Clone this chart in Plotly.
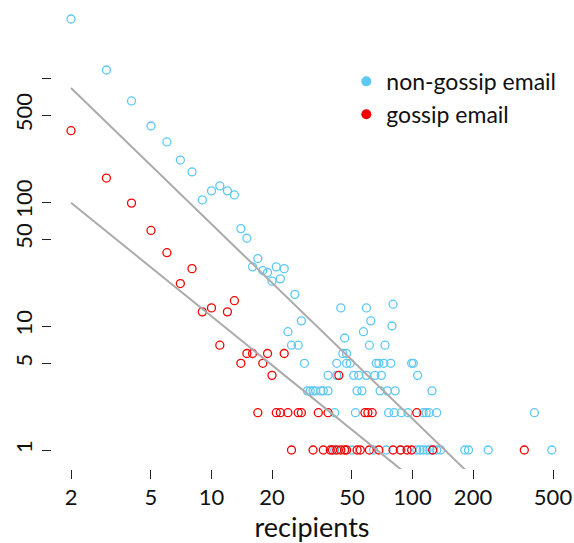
import plotly.graph_objects as go
import numpy as np

# ---------------- data ----------------
nongossip_x = [2, 3, 4, 5, 6, 7, 8, 9, 10, 11, 12, 13, 14, 15, 16, 17, 18, 19, 20, 21, 22, 23,
               24, 25, 26, 27, 28, 29,
               30, 31, 32, 33, 35, 36, 38, 53, 56, 69, 75, 82, 125,
               41, 50, 64, 74, 88, 105, 109, 113, 118, 122, 126, 132, 138, 182, 190, 238, 493,
               41, 52, 76, 81, 88, 95, 113, 117, 121, 132, 404,
               38, 42, 51, 54, 59, 65, 70, 106,
               42, 47, 49, 66, 68, 72, 78, 99, 101,
               45, 47, 61, 73, 46, 57, 79, 62, 44, 59, 80]
nongossip_y = [2990, 1160, 653, 410, 305, 218, 175, 104, 123, 135, 123, 114, 61, 51, 30, 35, 28, 27, 23, 30, 24, 29,
               9, 7, 18, 7, 11, 5,
               3, 3, 3, 3, 3, 3, 3, 3, 3, 3, 3, 3, 3,
               1, 1, 1, 1, 1, 1, 1, 1, 1, 1, 1, 1, 1, 1, 1, 1, 1,
               2, 2, 2, 2, 2, 2, 2, 2, 2, 2, 2,
               4, 4, 4, 4, 4, 4, 4, 4,
               5, 5, 5, 5, 5, 5, 5, 5, 5,
               6, 6, 7, 7, 8, 9, 10, 11, 14, 14, 15]

gossip_x = [2, 3, 4, 5, 6, 7, 8, 9, 10, 11, 12, 13, 14, 15, 16, 17, 18, 19, 20, 21, 22, 23, 24,
            27, 28, 34, 38, 43, 58, 60, 63, 105,
            25, 32, 36, 39, 40, 42, 44, 46, 47, 53, 55, 61, 68, 80, 87, 94, 99, 126, 360]
gossip_y = [376, 156, 98, 59, 39, 22, 29, 13, 14, 7, 13, 16, 5, 6, 6, 2, 5, 6, 4, 2, 2, 6, 2,
            2, 2, 2, 2, 4, 2, 2, 2, 2,
            1, 1, 1, 1, 1, 1, 1, 1, 1, 1, 1, 1, 1, 1, 1, 1, 1, 1, 1]

# power-law fits: log10(y) = log10_at_2 + slope * (log10(x) - log10(2))
fit_names = ["non-gossip fit", "gossip fit"]
fit_log10_at_2 = [2.919, 1.994]
fit_slopes = [-1.57, -1.31]
fit_x_span = [2, 500]

x_ticks = [2, 5, 10, 20, 50, 100, 200, 500]
y_ticks = [1, 5, 10, 50, 100, 500, 1000]
y_tick_labels = ["1", "5", "10", "50", "100", "500", ""]

series_names = ["non-gossip email", "gossip email"]
BLUE = "#5CC8F4"
RED = "#F50000"
GREY = "#ABABAB"
FONT = "Lato"

fig = go.Figure()

fig.add_trace(go.Scatter(
    x=nongossip_x, y=nongossip_y, mode="markers", name=series_names[0], showlegend=False,
    marker=dict(symbol="circle-open", size=8, color=BLUE, line=dict(width=1.3, color=BLUE)),
))
fig.add_trace(go.Scatter(
    x=gossip_x, y=gossip_y, mode="markers", name=series_names[1], showlegend=False,
    marker=dict(symbol="circle-open", size=8, color=RED, line=dict(width=1.3, color=RED)),
))

for name, c0, m in zip(fit_names, fit_log10_at_2, fit_slopes):
    xs = np.array(fit_x_span, dtype=float)
    ys = 10 ** (c0 + m * (np.log10(xs) - np.log10(2)))
    fig.add_trace(go.Scatter(x=xs, y=ys, mode="lines", name=name, showlegend=False,
                             line=dict(color=GREY, width=2)))

# legend entries (filled dots)
for i, (name, col) in enumerate(zip(series_names, [BLUE, RED])):
    fig.add_trace(go.Scatter(x=[None], y=[None], mode="markers", name=name,
                             legendgroup=f"g{i}",
                             marker=dict(symbol="circle", size=10, color=col)))

fig.update_layout(
    width=574, height=543, autosize=False,
    margin=dict(l=52, r=2, t=2, b=74, autoexpand=False),
    paper_bgcolor="white", plot_bgcolor="white",
    font=dict(family=FONT, color="#111111"),
    showlegend=True,
    legend=dict(x=0.566, y=0.876, xanchor="left", yanchor="top",
                font=dict(size=23, family=FONT, color="#111111"),
                bgcolor="rgba(0,0,0,0)", borderwidth=0,
                itemwidth=30, tracegroupgap=0),
    xaxis=dict(type="log", range=[0.2065, 2.7935],
               tickmode="array", tickvals=x_ticks, ticktext=[str(v) for v in x_ticks],
               ticks="outside", ticklen=9, tickwidth=1, tickcolor="#222222",
               showline=False, showgrid=False, zeroline=False, automargin=False,
               tickfont=dict(size=22, family=FONT, color="#111111"),
               title=dict(text="recipients", font=dict(size=27, family=FONT, color="#111111"),
                          standoff=10)),
    yaxis=dict(type="log", range=[-0.1532, 3.6129],
               tickmode="array", tickvals=y_ticks, ticktext=y_tick_labels, tickangle=-90,
               ticks="outside", ticklen=9, tickwidth=1, tickcolor="#222222",
               showline=False, showgrid=False, zeroline=False, automargin=False,
               ticklabelstandoff=1,
               tickfont=dict(size=22, family=FONT, color="#111111")),
)

fig.write_html("out.html", config={"displayModeBar": False},
               post_script="document.body.style.margin='0';document.body.style.overflow='hidden';")
